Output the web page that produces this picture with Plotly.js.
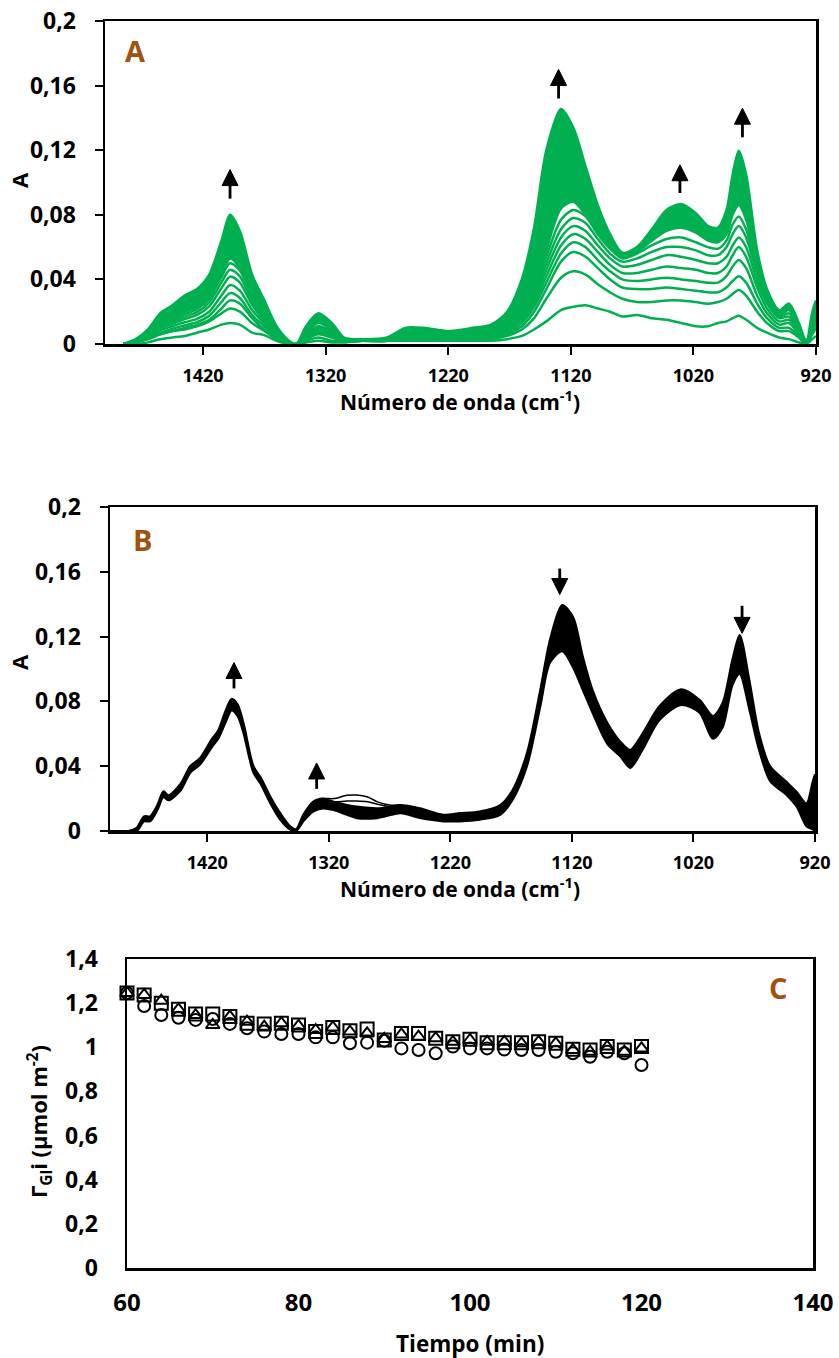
<!DOCTYPE html>
<html>
<head>
<meta charset="utf-8">
<script src="https://cdn.plot.ly/plotly-3.0.1.min.js"></script>
<style>html,body{margin:0;padding:0;background:#fff}#chart{width:839px;height:1358px}</style>
</head>
<body>
<div id="chart"></div>
<script>
// ---------- Panel A : spectra (green) ----------
const wnA = [1485,1475,1465,1455,1445,1435,1425,1415,1405,1398,
  1390,1380,1370,1360,1350,1344,1336,1326,1315,1305,
  1290,1270,1255,1240,1220,1200,1185,1172,1160,1150,
  1140,1128,1118,1108,1098,1088,1078,1066,1054,1042,
  1030,1018,1008,1000,993,988,983,977,968,960,
  950,942,934,928,923,920];
const A_top = [0,0.003,0.009,0.019,0.024,0.030,0.034,0.043,0.064,0.080,
  0.070,0.043,0.027,0.011,0.002,0,0.011,0.019,0.013,0.004,
  0.003,0.004,0.010,0.010,0.008,0.010,0.012,0.020,0.040,0.072,
  0.120,0.1455,0.134,0.110,0.086,0.068,0.0565,0.060,0.071,0.083,
  0.0867,0.081,0.073,0.072,0.083,0.105,0.1197,0.105,0.058,0.034,
  0.021,0.025,0.013,0.001,0.020,0.027];
const A_bandLow = [0,0.002,0.006,0.012,0.016,0.020,0.023,0.029,0.043,0.053,
  0.047,0.030,0.018,0.007,0.001,0,0.007,0.013,0.009,0.003,
  0.002,0.003,0.007,0.007,0.006,0.007,0.008,0.011,0.018,0.032,
  0.058,0.084,0.088,0.080,0.069,0.060,0.054,0.057,0.064,0.070,
  0.072,0.069,0.064,0.063,0.068,0.080,0.086,0.077,0.048,0.030,
  0.019,0.022,0.012,0.002,0.012,0.020];
const A_L8 = [0,0.002,0.0055,0.0115,0.015,0.0185,0.0215,0.028,0.0415,0.050,0.0455,0.029,0.017,0.007,0.001,0,
  0.006,0.011,0.008,0.003,0.002,0.003,0.006,0.006,0.005,0.006,0.007,0.010,
  0.017,0.031,0.054,0.077,0.083,0.079,0.068,0.059,0.053,0.056,0.061,0.065,0.066,0.063,0.060,0.059,0.064,0.074,0.079,0.071,0.046,0.029,0.018,0.021,0.011,0.002,0.012,0.019];
const A_L7 = [0,0.0018,0.005,0.0106,0.0138,0.017,0.0198,0.0258,0.0382,0.046,0.0419,0.0267,0.0156,0.0064,0.0009,0,
  0.005,0.010,0.007,0.002,0.002,0.003,0.006,0.006,0.005,0.006,0.006,0.009,
  0.016,0.029,0.050,0.071,0.078,0.075,0.065,0.056,0.051,0.053,0.057,0.060,0.060,0.058,0.055,0.055,0.060,0.068,0.073,0.066,0.043,0.027,0.017,0.019,0.010,0.002,0.011,0.018];
const A_L6 = [0,0.0017,0.0046,0.0096,0.0125,0.0154,0.018,0.0233,0.0346,0.0417,0.038,0.0242,0.0142,0.0058,0.0008,0,
  0.005,0.009,0.006,0.002,0.002,0.002,0.005,0.005,0.004,0.005,0.006,0.008,
  0.015,0.027,0.046,0.066,0.073,0.070,0.061,0.053,0.048,0.049,0.052,0.055,0.054,0.052,0.050,0.050,0.054,0.061,0.066,0.060,0.039,0.025,0.016,0.017,0.009,0.001,0.011,0.017];
const A_L5 = [0,0.0015,0.004,0.0085,0.011,0.0135,0.0155,0.020,0.030,0.0365,0.033,0.021,0.0125,0.005,0.0007,0,
  0.004,0.008,0.006,0.002,0.002,0.002,0.005,0.005,0.004,0.005,0.005,0.008,
  0.014,0.025,0.042,0.061,0.068,0.065,0.057,0.049,0.044,0.044,0.046,0.048,0.047,0.046,0.044,0.044,0.048,0.055,0.060,0.054,0.035,0.022,0.014,0.015,0.008,0.001,0.010,0.015];
const A_L4 = [0,0.001,0.0035,0.007,0.0095,0.0115,0.0135,0.0175,0.026,0.0315,0.0285,0.018,0.011,0.0045,0.0006,0,
  0.004,0.007,0.005,0.002,0.002,0.002,0.004,0.004,0.004,0.004,0.005,0.007,
  0.013,0.023,0.038,0.056,0.063,0.060,0.052,0.045,0.040,0.039,0.040,0.041,0.040,0.039,0.038,0.038,0.042,0.048,0.052,0.047,0.030,0.019,0.012,0.013,0.006,0.001,0.009,0.014];
const A_L3 = [0,0.001,0.003,0.006,0.008,0.010,0.012,0.015,0.022,0.027,0.025,0.016,0.009,0.004,0.001,0,
  0.003,0.006,0.004,0.002,0.002,0.002,0.004,0.004,0.003,0.004,0.004,0.006,
  0.011,0.020,0.034,0.051,0.057,0.054,0.047,0.040,0.035,0.034,0.034,0.035,0.034,0.033,0.032,0.032,0.035,0.039,0.042,0.038,0.025,0.016,0.010,0.010,0.005,0.001,0.008,0.012];
const A_L2 = [0,0.001,0.003,0.006,0.008,0.009,0.011,0.014,0.019,0.022,0.020,0.013,0.008,0.003,0,0,
  0.002,0.004,0.002,0.002,0.002,0.002,0.003,0.003,0.003,0.003,0.003,0.005,
  0.009,0.016,0.028,0.041,0.045,0.043,0.037,0.032,0.028,0.026,0.026,0.027,0.027,0.026,0.025,0.026,0.028,0.031,0.0334,0.030,0.020,0.013,0.008,0.008,0.004,0,0.006,0.010];
const A_L1 = [0,0,0.001,0.003,0.004,0.005,0.007,0.009,0.012,0.013,0.012,0.007,0.0055,0.002,0,0,
  0.001,0.002,0.001,0.001,0.002,0.002,0.002,0.002,0.002,0.002,0.002,0.003,
  0.005,0.009,0.014,0.021,0.023,0.024,0.022,0.020,0.017,0.018,0.016,0.015,0.013,0.011,0.011,0.013,0.014,0.016,0.0175,0.015,0.010,0.007,0.004,0.003,0.001,0,0.003,0.005];

// arrows in panel A: wavenumber, tail value, tip value
const arrowA_wn   = [1398, 1130, 1031, 980];
const arrowA_tail = [0.090, 0.152, 0.0935, 0.128];
const arrowA_tip  = [0.108, 0.170, 0.111, 0.146];

// ---------- Panel B : spectra (black) ----------
const wnB = [1500,1485,1478,1472,1467,1461,1456,1452,1442,1434,
  1426,1416,1411,1405,1400,1395,1390,1382,1376,1368,
  1360,1352,1347,1341,1333,1325,1316,1305,1297,1280,
  1261,1245,1226,1212,1196,1179,1169,1157,1146,1138,
  1128,1119,1111,1103,1091,1080,1072,1062,1048,1030,
  1015,1004,996,988,982,974,966,957,943,935,
  927,922,920];
const B_top = [0,0,0.002,0.009,0.009,0.016,0.0245,0.022,0.029,0.040,
  0.045,0.057,0.062,0.074,0.0815,0.078,0.066,0.040,0.033,0.021,
  0.011,0.003,0.001,0.010,0.018,0.020,0.018,0.016,0.015,0.014,
  0.016,0.014,0.010,0.011,0.012,0.016,0.025,0.048,0.087,0.118,
  0.1395,0.132,0.1075,0.087,0.067,0.055,0.050,0.060,0.077,0.0875,
  0.081,0.071,0.079,0.1055,0.121,0.093,0.060,0.040,0.030,0.024,
  0.017,0.030,0.035];
const B_bot = [0,0,0,0.006,0.006,0.013,0.021,0.019,0.025,0.036,
  0.041,0.052,0.057,0.067,0.0745,0.071,0.060,0.036,0.029,0.017,
  0.007,0.001,0,0.006,0.012,0.014,0.013,0.010,0.008,0.008,
  0.011,0.008,0.006,0.006,0.007,0.010,0.019,0.040,0.077,0.104,
  0.111,0.101,0.087,0.073,0.054,0.046,0.039,0.050,0.0685,0.0778,
  0.073,0.057,0.064,0.090,0.097,0.075,0.050,0.031,0.022,0.015,
  0.003,0.001,0];
const wnB_out = [1333,1325,1316,1305,1297,1288,1280,1270,1261];
const B_out1 = [0.018,0.020,0.020,0.022,0.0222,0.021,0.018,0.016,0.016];
const B_out2 = [0.018,0.019,0.018,0.0185,0.0185,0.018,0.0165,0.015,0.016];

const arrowB_wn   = [1398, 1330, 1130, 980];
const arrowB_tail = [0.088, 0.026, 0.162, 0.139];
const arrowB_tip  = [0.104, 0.042, 0.146, 0.122];

// ---------- Panel C : surface excess vs time ----------
const tC = [60,62,64,66,68,70,72,74,76,78,80,82,84,86,88,90,92,94,96,98,100,102,104,106,108,110,112,114,116,118,120];
const C_circles = [1.246,1.187,1.146,1.134,1.124,1.128,1.106,1.086,1.071,1.060,1.060,1.045,1.045,1.018,1.021,1.030,0.995,0.988,0.973,1.003,0.995,0.995,0.990,0.988,0.988,0.980,0.973,0.957,0.980,0.973,0.920];
const C_squares = [1.246,1.237,1.199,1.172,1.151,1.151,1.139,1.109,1.106,1.109,1.101,1.071,1.090,1.075,1.083,1.033,1.063,1.063,1.041,1.025,1.036,1.021,1.021,1.021,1.025,1.018,0.991,0.988,1.003,0.988,1.003];
const C_triangles = [1.246,1.237,1.211,1.172,1.146,1.101,1.139,1.116,1.093,1.109,1.097,1.078,1.090,1.071,1.063,1.038,1.058,1.048,1.041,1.025,1.033,1.025,1.025,1.018,1.025,1.018,0.988,0.980,1.003,0.980,0.995];

// ---------- build ----------
const W = 839, H = 1358;
const px = v => v / W;
const py = v => 1 - v / H;
const GREEN = '#00B050';
const BROWN = '#A0520F';
const FONT = 'Open Sans, sans-serif';

const traces = [];
function line(x, y, xa, ya, color, width, extra) {
  return Object.assign({type:'scatter', mode:'lines', x:x, y:y, xaxis:xa, yaxis:ya,
    line:{color:color, width:width, shape:'spline', smoothing:0.8}, hoverinfo:'skip'}, extra || {});
}
[A_L1,A_L2,A_L3,A_L4,A_L5,A_L6,A_L7,A_L8].forEach(s => traces.push(line(wnA, s, 'x', 'y', GREEN, 2.5)));
traces.push(line(wnA, A_bandLow, 'x', 'y', GREEN, 2.5));
traces.push(line(wnA, A_top, 'x', 'y', GREEN, 2.5, {fill:'tonexty', fillcolor:GREEN}));

traces.push(line(wnB, B_bot, 'x2', 'y2', '#000', 2.2));
traces.push(line(wnB, B_top, 'x2', 'y2', '#000', 2.2, {fill:'tonexty', fillcolor:'#000'}));
traces.push(line(wnB_out, B_out1, 'x2', 'y2', '#000', 1.5));
traces.push(line(wnB_out, B_out2, 'x2', 'y2', '#000', 1.5));

// arrows: a shaft (line trace) and a solid arrow-head marker whose point sits on the tip value
function arrowTraces(wn, tail, tip, xa, ya) {
  const sx = [], sy = [];
  const hx = [], hy = [], hs = [];
  wn.forEach((w, i) => {
    sx.push(w, w, null);
    sy.push(tail[i], (tail[i] + tip[i]) / 2, null);
    hx.push(w); hy.push(tip[i]);
    hs.push(tip[i] > tail[i] ? 'arrow-up' : 'arrow-down');
  });
  traces.push({type:'scatter', mode:'lines', x:sx, y:sy, xaxis:xa, yaxis:ya, cliponaxis:false,
    line:{color:'#000', width:2.8}, hoverinfo:'skip'});
  traces.push({type:'scatter', mode:'markers', x:hx, y:hy, xaxis:xa, yaxis:ya, cliponaxis:false,
    marker:{symbol:hs, size:16, color:'#000', opacity:1, line:{color:'#000', width:1}}, hoverinfo:'skip'});
}
arrowTraces(arrowA_wn, arrowA_tail, arrowA_tip, 'x', 'y');
arrowTraces(arrowB_wn, arrowB_tail, arrowB_tip, 'x2', 'y2');

function pts(y, sym, size) {
  return {type:'scatter', mode:'markers', x:tC, y:y, xaxis:'x3', yaxis:'y3', cliponaxis:false,
    marker:{symbol:sym, size:size, color:'#000', line:{color:'#000', width:2}}, hoverinfo:'skip'};
}
traces.push(pts(C_circles, 'circle-open', 12));
traces.push(pts(C_squares, 'square-open', 13));
traces.push(pts(C_triangles, 'triangle-up-open', 12));

const yTick = {family:FONT, size:23, color:'#000', weight:700};
const xTick = {family:FONT, size:18, color:'#000', weight:700};
const cTick = {family:FONT, size:24, color:'#000', weight:700};
function axis(extra) {
  return Object.assign({showline:true, mirror:true, linecolor:'#000', linewidth:2.5,
    showgrid:false, zeroline:false, ticks:'outside', ticklen:8, tickwidth:2, tickcolor:'#000'}, extra);
}

const annotations = [];
function label(text, x, y, size, color, angle) {
  annotations.push({xref:'paper', yref:'paper', x:px(x), y:py(y), xanchor:'center', yanchor:'middle',
    text:text, showarrow:false, textangle:angle || 0, font:{family:FONT, size:size, color:color, weight:700}});
}
label('A', 135, 51, 29, BROWN);
label('B', 142, 540, 29, BROWN);
label('C', 778, 987, 29, BROWN);
label('Número de onda (cm<sup>-1</sup>)', 460, 400, 21, '#000');
label('Número de onda (cm<sup>-1</sup>)', 460, 887, 21, '#000');
label('Tiempo (min)', 470, 1343, 22.5, '#000');
label('A', 19, 180, 22, '#000', -90);
label('A', 19, 662, 22, '#000', -90);
label('Γ<sub>Gl</sub>i (µmol m<sup>-2</sup>)', 39, 1122, 22, '#000', -90);

const layout = {
  width: W, height: H, margin:{l:0, r:0, t:0, b:0},
  paper_bgcolor:'#fff', plot_bgcolor:'#fff', showlegend:false, separators:',.',
  font:{family:FONT, color:'#000'},
  xaxis: axis({domain:[px(105), px(816)], range:[1500, 920], tickvals:[1420,1320,1220,1120,1020,920], tickfont:xTick, anchor:'y', ticklabelstandoff:6}),
  yaxis: axis({domain:[py(344), py(21)], range:[0, 0.2], dtick:0.04, tick0:0, tickfont:yTick, anchor:'x', ticklabelstandoff:14}),
  xaxis2: axis({domain:[px(110), px(815)], range:[1500, 920], tickvals:[1420,1320,1220,1120,1020,920], tickfont:xTick, anchor:'y2', ticklabelstandoff:6}),
  yaxis2: axis({domain:[py(831), py(507)], range:[0, 0.2], dtick:0.04, tick0:0, tickfont:yTick, anchor:'x2', ticklabelstandoff:14}),
  xaxis3: axis({domain:[px(127), px(813)], range:[60, 140], dtick:20, tick0:60, ticks:'', tickfont:cTick, anchor:'y3', ticklabelstandoff:12}),
  yaxis3: axis({domain:[py(1268), py(959)], range:[0, 1.4], dtick:0.2, tick0:0, ticks:'', tickfont:yTick, anchor:'x3', ticklabelstandoff:22}),
  annotations: annotations
};
Plotly.newPlot('chart', traces, layout, {staticPlot:true, displayModeBar:false});
</script>
</body>
</html>
